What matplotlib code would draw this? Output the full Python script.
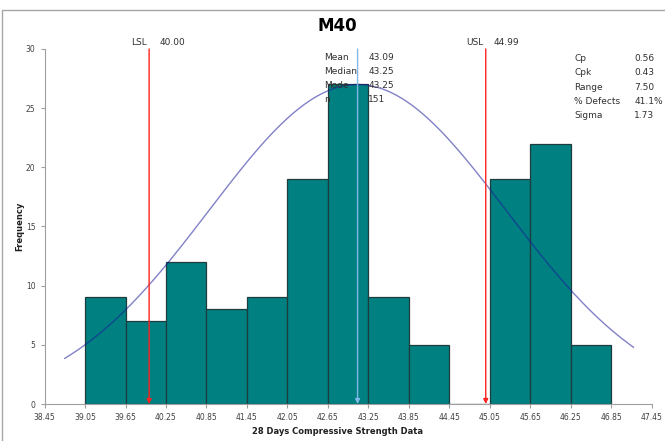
import numpy as np
import matplotlib.pyplot as plt
from matplotlib.patches import Rectangle

# histogram data
bin_edges = [39.05, 39.65, 40.25, 40.85, 41.45, 42.05, 42.65, 43.25,
             43.85, 44.45, 45.05, 45.65, 46.25, 46.85]
counts = [9, 7, 12, 8, 9, 19, 27, 9, 5, 0, 19, 22, 5]
xtick_vals = [38.45, 39.05, 39.65, 40.25, 40.85, 41.45, 42.05, 42.65,
              43.25, 43.85, 44.45, 45.05, 45.65, 46.25, 46.85, 47.45]

lsl = 40.00
usl = 44.99
mean = 43.09
stats_left = [("Mean", "43.09"), ("Median", "43.25"), ("Mode", "43.25"), ("n", "151")]
stats_right = [("Cp", "0.56"), ("Cpk", "0.43"), ("Range", "7.50"),
               ("% Defects", "41.1%"), ("Sigma", "1.73")]

# fitted curve as drawn (scaled to the tallest bar)
curve_center = 43.09
curve_sigma = 2.2
curve_peak = max(counts)
curve_from, curve_to = 38.75, 47.18

fig = plt.figure(figsize=(6.65, 4.41), dpi=100)
fig.patches.append(Rectangle((2 / 665, -0.1), 1.1, 1.1 - 10 / 441,
                             transform=fig.transFigure, fill=False,
                             edgecolor="#a6a6a6", lw=1.0))
ax = fig.add_axes([0.067, 0.0839, 0.913, 0.805])

widths = np.diff(bin_edges)
ax.bar(bin_edges[:-1], counts, width=widths, align="edge", color="#008080",
       edgecolor="#1f3d3d", linewidth=0.9, zorder=2)

xs = np.linspace(curve_from, curve_to, 300)
ys = curve_peak * np.exp(-0.5 * ((xs - curve_center) / curve_sigma) ** 2)
ax.plot(xs, ys, color="#1a1a9a", alpha=0.55, lw=1.0, zorder=3)

for xv, col in [(lsl, "#ff2020"), (usl, "#ff2020"), (mean, "#80b8e8")]:
    ax.annotate("", xy=(xv, 0), xytext=(xv, 30),
                arrowprops=dict(arrowstyle="-|>", color=col, lw=1.0,
                                mutation_scale=7, shrinkA=0, shrinkB=0),
                zorder=4)

fs = 6.5
tc = "#303030"
ax.text(lsl - 0.03, 30.2, "LSL", ha="right", va="bottom", fontsize=fs, color=tc)
ax.text(lsl + 0.15, 30.2, "%.2f" % lsl, ha="left", va="bottom", fontsize=fs, color=tc)
ax.text(usl - 0.03, 30.2, "USL", ha="right", va="bottom", fontsize=fs, color=tc)
ax.text(usl + 0.12, 30.2, "%.2f" % usl, ha="left", va="bottom", fontsize=fs, color=tc)

row_y = [58, 72, 86, 100]
for (lab, val), py in zip(stats_left, row_y):
    yv = (404 - py) / 11.83
    ax.text(42.59, yv, lab, ha="left", va="center", fontsize=fs, color=tc, zorder=5)
    ax.text(43.25, yv, val, ha="left", va="center", fontsize=fs, color=tc, zorder=5)

row_y2 = [59, 73, 88, 102, 116]
for (lab, val), py in zip(stats_right, row_y2):
    yv = (404 - py) / 11.83
    ax.text(46.30, yv, lab, ha="left", va="center", fontsize=fs, color=tc)
    ax.text(47.19, yv, val, ha="left", va="center", fontsize=fs, color=tc)

ax.set_xlim(38.45, 47.45)
ax.set_ylim(0, 30)
ax.set_xticks(xtick_vals)
ax.set_xticklabels(["%.2f" % v for v in xtick_vals])
ax.set_yticks(range(0, 31, 5))
ax.tick_params(labelsize=5.5, colors="#404040", length=3, width=0.8)
ax.tick_params(axis="both", color="#a0a0a0")
for s in ["top", "right"]:
    ax.spines[s].set_visible(False)
for s in ["left", "bottom"]:
    ax.spines[s].set_color("#a0a0a0")

fig.text(0.507, 0.94, "M40", ha="center", va="center", fontsize=12, fontweight="bold")
fig.text(0.507, 0.022, "28 Days Compressive Strength Data", ha="center", va="center",
         fontsize=6, fontweight="bold", color="#202020")
fig.text(0.03, 0.487, "Frequency", ha="center", va="center", rotation=90,
         fontsize=6, fontweight="bold", color="#202020")

fig.savefig("out.png", dpi=100)
